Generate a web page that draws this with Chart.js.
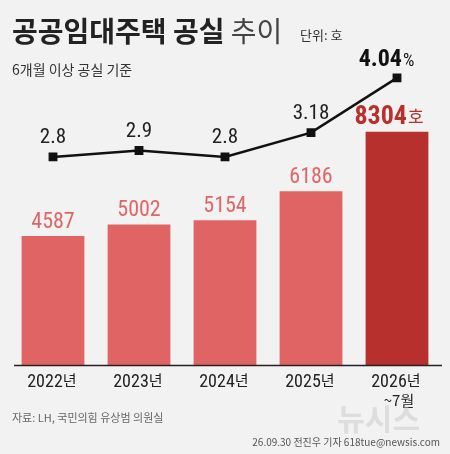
<!DOCTYPE html><html><head><meta charset="utf-8">
<script src="https://cdn.jsdelivr.net/npm/chart.js@4"></script>
<style>html,body{margin:0;padding:0;background:#f2f2f2}canvas{display:block}</style></head><body>
<canvas id="c" width="450" height="454"></canvas>
<script>
const categories=["2022년","2023년","2024년","2025년","2026년"];
const vacantUnits=[4587,5002,5154,6186,8304];
const vacancyRate=[2.8,2.9,2.8,3.18,4.04];
const rateLabels=["2.8","2.9","2.8","3.18","4.04"];
const NARROW='"Liberation Sans Narrow","Roboto Condensed","Liberation Sans",sans-serif';
const KR='"Noto Sans CJK KR",sans-serif';
const textPlugin={id:'txt',afterDraw(ch){
 const c=ch.ctx,xs=ch.scales.x,yb=ch.scales.yb,yl=ch.scales.yl;c.save();
 c.textBaseline='alphabetic';
 c.font='bold 28px '+KR;c.fillStyle='#222';c.textAlign='left';c.fillText('공공임대주택 공실',12,42);
 let w=c.measureText('공공임대주택 공실 ').width;c.font='28px '+KR;c.fillStyle='#444';c.fillText('추이',12+w,42);
 c.font='13px '+KR;c.fillStyle='#333';c.fillText('단위: 호',300,40);
 c.font='14px '+KR;c.fillStyle='#333';c.fillText('6개월 이상 공실 기준',12,75);
 c.strokeStyle='#222';c.lineWidth=1.5;c.beginPath();c.moveTo(14,yb.getPixelForValue(0)+0.5);c.lineTo(442,yb.getPixelForValue(0)+0.5);c.stroke();
 categories.forEach((cat,i)=>{const x=xs.getPixelForValue(i);
  c.textAlign='center';c.fillStyle='#222';c.font='18px '+NARROW;c.fillText(cat.replace('년',''),x-8,387);
  let tw=c.measureText(cat.replace('년','')).width;c.font='15px '+KR;c.textAlign='left';c.fillText('년',x-8+tw/2,386);
  const by=yb.getPixelForValue(vacantUnits[i]);
  if(i<4){c.textAlign='center';c.font='22px '+NARROW;c.fillStyle='#e06666';c.fillText(vacantUnits[i],x,by-8);}
  else{c.font='bold 26px '+NARROW;c.fillStyle='#b7302e';c.textAlign='right';c.fillText(vacantUnits[i],x+10,by-8);c.font='17px '+KR;c.textAlign='left';c.fillText('호',x+11,by-9);}
  const ly=yl.getPixelForValue(vacancyRate[i]);
  if(i<4){c.textAlign='center';c.font='21px '+NARROW;c.fillStyle='#222';c.fillText(rateLabels[i],x,ly-14);}
  else{c.font='bold 24px '+NARROW;c.fillStyle='#111';c.textAlign='right';c.fillText(rateLabels[i],x+5,ly-12);c.font='18px '+NARROW;c.textAlign='left';c.fillText('%',x+6,ly-12);}
 });
 c.textAlign='center';c.font='15px '+KR;c.fillStyle='#222';c.fillText('~7월',xs.getPixelForValue(4)+2,406);
 c.textAlign='left';c.font='11px '+KR;c.fillStyle='#666';c.fillText('자료: LH, 국민의힘 유상범 의원실',12,422);
 c.textAlign='right';c.font='10px '+KR;c.fillStyle='#555';c.fillText('26.09.30 전진우 기자 618tue@newsis.com',440,446);
 c.font='bold 30px '+KR;c.fillStyle='rgba(200,200,200,0.5)';c.fillText('뉴시스',420,430);
 c.restore();}};
new Chart(document.getElementById('c'),{type:'bar',
 data:{labels:categories,datasets:[
  {type:'line',data:vacancyRate,yAxisID:'yl',borderColor:'#111',borderWidth:2.5,pointStyle:'rect',pointRadius:4.5,backgroundColor:'#111',pointBackgroundColor:'#111',order:0},
  {type:'bar',data:vacantUnits,yAxisID:'yb',backgroundColor:['#e06464','#e06464','#e06464','#e06464','#b7302e'],barPercentage:0.73,categoryPercentage:1,order:1}]},
 options:{responsive:false,animation:false,devicePixelRatio:1,
  layout:{padding:{top:60,bottom:89,left:10,right:10}},
  plugins:{legend:{display:false},tooltip:{enabled:false}},
  scales:{x:{display:false},yb:{display:false,min:0,max:10854},yl:{display:false,min:-0.465,max:4.32}}},
 plugins:[textPlugin]});
</script></body></html>
